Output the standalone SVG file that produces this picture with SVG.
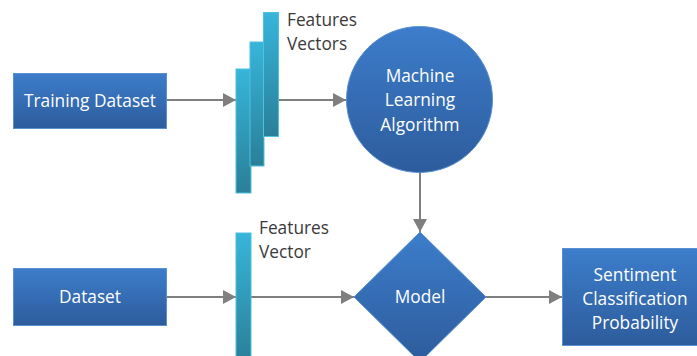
<svg xmlns="http://www.w3.org/2000/svg" width="697" height="356" viewBox="0 0 697 356">
<defs>
<linearGradient id="gBlue" x1="0" y1="0" x2="0" y2="1">
<stop offset="0" stop-color="#3d7dcb"/>
<stop offset="1" stop-color="#2d5c9c"/>
</linearGradient>
<linearGradient id="gBar" x1="0" y1="0" x2="0" y2="1">
<stop offset="0" stop-color="#37b5da"/>
<stop offset="1" stop-color="#2a7f98"/>
</linearGradient>
<marker id="arr" markerWidth="13" markerHeight="14" refX="13" refY="7" orient="auto" markerUnits="userSpaceOnUse" viewBox="0 0 13 14">
<path d="M0,0 L13,7 L0,14 z" fill="#7f7f7f"/>
</marker>
<style>
.box{fill:url(#gBlue);stroke:#5a8fd2;stroke-width:1}
.bar{fill:url(#gBar);stroke:#4ec0e0;stroke-width:1}
.wt{font-family:"Open Sans","Liberation Sans",sans-serif;font-size:17.3px;fill:#ffffff;text-anchor:middle}
.dt{font-family:"Open Sans","Liberation Sans",sans-serif;font-size:17.3px;fill:#3a3a3a}
.ln{stroke:#7f7f7f;stroke-width:2;fill:none;marker-end:url(#arr)}
</style>
</defs>
<g id="connectors">
<line class="ln" x1="167" y1="100" x2="236" y2="100"/>
<line class="ln" x1="279" y1="100" x2="346" y2="100"/>
<line class="ln" x1="420" y1="172" x2="420" y2="232"/>
<line class="ln" x1="167" y1="297" x2="236" y2="297"/>
<line class="ln" x1="251" y1="297" x2="354" y2="297"/>
<line class="ln" x1="486" y1="297" x2="562" y2="297"/>
</g>
<g id="training-dataset">
<rect class="box" x="13.5" y="73.5" width="153" height="55"/>
<text class="wt" x="90" y="107">Training Dataset</text>
</g>
<g id="features-vectors">
<rect class="bar" x="236" y="69" width="15" height="124"/>
<rect class="bar" x="250" y="42" width="14" height="124"/>
<rect class="bar" x="263.5" y="12.5" width="15" height="124"/>
<text class="dt" x="287" y="26">Features</text>
<text class="dt" x="287" y="50">Vectors</text>
</g>
<g id="ml-algorithm">
<circle cx="419.5" cy="99.5" r="73" fill="url(#gBlue)" stroke="#5a8fd2" stroke-width="1"/>
<text class="wt" x="420" y="82">Machine</text>
<text class="wt" x="420" y="106">Learning</text>
<text class="wt" x="420" y="131">Algorithm</text>
</g>
<g id="dataset">
<rect class="box" x="13.5" y="268.5" width="153" height="57"/>
<text class="wt" x="90" y="303">Dataset</text>
</g>
<g id="features-vector">
<rect class="bar" x="236" y="233" width="15" height="130"/>
<text class="dt" x="259" y="234">Features</text>
<text class="dt" x="259" y="258">Vector</text>
</g>
<g id="model">
<polygon points="420,232 486,297 420,362 354,297" fill="url(#gBlue)" stroke="#5a8fd2" stroke-width="1"/>
<text class="wt" x="420" y="303">Model</text>
</g>
<g id="sentiment">
<rect class="box" x="562.5" y="248.5" width="146" height="97"/>
<text class="wt" x="635" y="281">Sentiment</text>
<text class="wt" x="635" y="305">Classification</text>
<text class="wt" x="635" y="329">Probability</text>
</g>
</svg>
